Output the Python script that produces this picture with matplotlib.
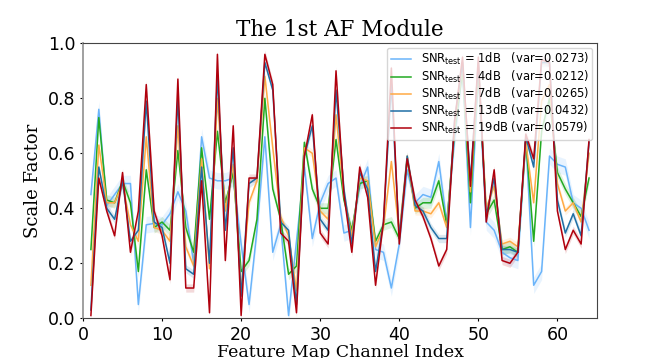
import numpy as np
import matplotlib
matplotlib.use("Agg")
import matplotlib.pyplot as plt

channels = list(range(1, 65))

snr_1db = [0.45, 0.76, 0.41, 0.45, 0.49, 0.49, 0.05, 0.34, 0.345, 0.34,
           0.38, 0.46, 0.39, 0.20, 0.66, 0.51, 0.50, 0.50, 0.51, 0.27,
           0.05, 0.32, 0.66, 0.24, 0.34, 0.01, 0.28, 0.55, 0.29, 0.42,
           0.49, 0.51, 0.31, 0.32, 0.48, 0.55, 0.25, 0.24, 0.11, 0.27,
           0.54, 0.42, 0.45, 0.44, 0.57, 0.35, 0.65, 0.90, 0.33, 0.88,
           0.35, 0.32, 0.24, 0.22, 0.21, 0.65, 0.12, 0.17, 0.59, 0.56,
           0.55, 0.42, 0.40, 0.32]
snr_4db = [0.25, 0.73, 0.43, 0.42, 0.50, 0.42, 0.17, 0.54, 0.33, 0.35,
           0.32, 0.61, 0.33, 0.24, 0.62, 0.36, 0.68, 0.42, 0.53, 0.17,
           0.21, 0.36, 0.80, 0.47, 0.36, 0.16, 0.19, 0.64, 0.47, 0.40,
           0.40, 0.65, 0.43, 0.32, 0.49, 0.50, 0.28, 0.34, 0.35, 0.29,
           0.58, 0.40, 0.42, 0.42, 0.50, 0.34, 0.68, 0.90, 0.42, 0.90,
           0.38, 0.43, 0.25, 0.26, 0.24, 0.65, 0.28, 0.68, 0.80, 0.53,
           0.47, 0.42, 0.37, 0.51]
snr_7db = [0.12, 0.63, 0.42, 0.42, 0.49, 0.34, 0.28, 0.66, 0.33, 0.32,
           0.28, 0.70, 0.26, 0.19, 0.58, 0.18, 0.80, 0.39, 0.56, 0.10,
           0.42, 0.50, 0.88, 0.62, 0.37, 0.30, 0.10, 0.62, 0.60, 0.39,
           0.36, 0.74, 0.45, 0.30, 0.51, 0.50, 0.26, 0.33, 0.57, 0.31,
           0.59, 0.39, 0.39, 0.38, 0.42, 0.33, 0.70, 0.92, 0.46, 0.92,
           0.40, 0.48, 0.27, 0.28, 0.26, 0.64, 0.42, 0.79, 0.85, 0.49,
           0.39, 0.42, 0.35, 0.60]
snr_13db = [0.03, 0.55, 0.40, 0.36, 0.50, 0.28, 0.32, 0.79, 0.35, 0.33,
            0.20, 0.80, 0.18, 0.16, 0.55, 0.20, 0.88, 0.32, 0.62, 0.08,
            0.49, 0.51, 0.93, 0.83, 0.35, 0.32, 0.05, 0.59, 0.70, 0.36,
            0.32, 0.83, 0.47, 0.27, 0.53, 0.47, 0.17, 0.35, 0.85, 0.29,
            0.59, 0.41, 0.39, 0.33, 0.29, 0.29, 0.72, 0.93, 0.50, 0.93,
            0.37, 0.51, 0.25, 0.25, 0.24, 0.66, 0.55, 0.93, 0.93, 0.43,
            0.31, 0.38, 0.30, 0.64]
snr_19db = [0.01, 0.51, 0.39, 0.30, 0.53, 0.24, 0.39, 0.85, 0.39, 0.30,
            0.14, 0.87, 0.11, 0.11, 0.50, 0.02, 0.96, 0.21, 0.70, 0.01,
            0.51, 0.51, 0.96, 0.85, 0.31, 0.28, 0.02, 0.59, 0.74, 0.31,
            0.27, 0.90, 0.45, 0.24, 0.55, 0.44, 0.12, 0.35, 0.91, 0.27,
            0.58, 0.43, 0.37, 0.29, 0.19, 0.25, 0.72, 0.95, 0.48, 0.95,
            0.35, 0.54, 0.21, 0.20, 0.24, 0.67, 0.58, 0.94, 0.93, 0.39,
            0.25, 0.32, 0.27, 0.65]

labels = [r"SNR$_{\mathrm{test}}$ = 1dB   (var=0.0273)",
          r"SNR$_{\mathrm{test}}$ = 4dB   (var=0.0212)",
          r"SNR$_{\mathrm{test}}$ = 7dB   (var=0.0265)",
          r"SNR$_{\mathrm{test}}$ = 13dB (var=0.0432)",
          r"SNR$_{\mathrm{test}}$ = 19dB (var=0.0579)"]
band = [0.03, 0.02, 0.015, 0.015, 0.015]
colors = ["#6ab4fa", "#22aa22", "#ffaa44", "#1f6fa5", "#b0000d"]

series = [snr_1db, snr_4db, snr_7db, snr_13db, snr_19db]

fig = plt.figure(figsize=(6.64, 3.58), dpi=100)
ax = fig.add_axes([0.125, 0.111, 0.774, 0.768])

x = np.array(channels)
for vals, lab, c, b in zip(series, labels, colors, band):
    v = np.array(vals)
    ax.fill_between(x, v - b, v + b, color=c, alpha=0.15, linewidth=0)
    ax.plot(x, v, color=c, linewidth=1.1, label=lab)

ax.set_xlim(0, 65)
ax.set_ylim(0, 1.0)
ax.set_xticks([0, 10, 20, 30, 40, 50, 60])
ax.set_yticks([0.0, 0.2, 0.4, 0.6, 0.8, 1.0])
ax.tick_params(labelsize=12.5, length=2)
for s in ax.spines.values():
    s.set_color("#444444")
ax.spines["left"].set_color("#999999")
ax.spines["left"].set_linewidth(1.3)

ax.set_title("The 1st AF Module", family="DejaVu Serif", fontsize=15.5, pad=5)
ax.set_xlabel("Feature Map Channel Index", family="DejaVu Serif", fontsize=12.5, labelpad=0)
ax.set_ylabel("Scale Factor", family="DejaVu Serif", fontsize=13)

ax.legend(loc="upper right", fontsize=8.3, framealpha=0.8, handlelength=1.8,
          borderaxespad=0.4, labelspacing=0.1, borderpad=0.3)

fig.savefig("out.png", dpi=100)
